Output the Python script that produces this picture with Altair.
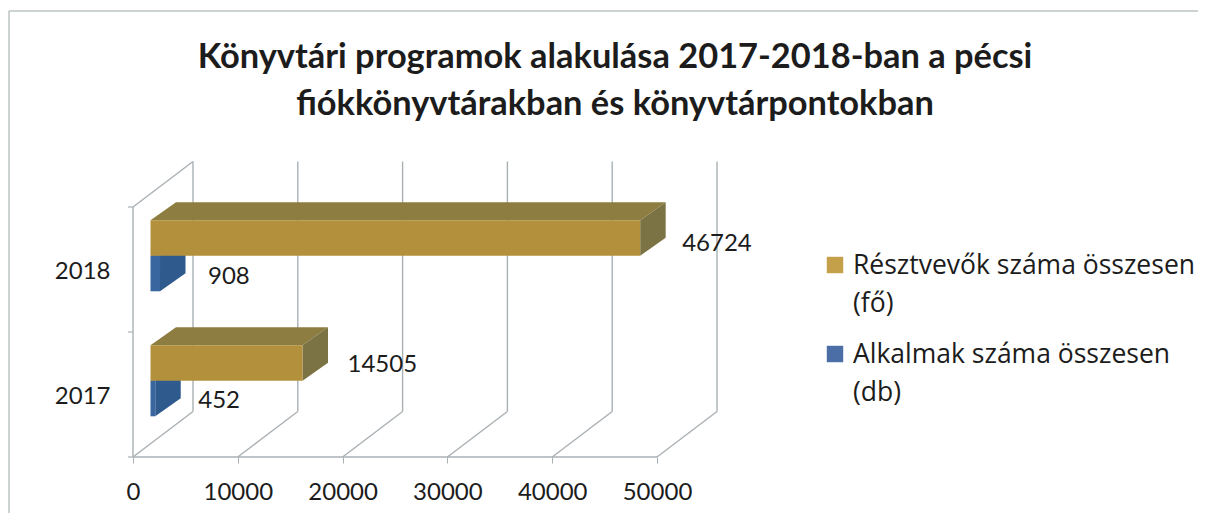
import altair as alt
import pandas as pd

# --- chart values ---
categories = ["2017", "2018"]
participants = [14505, 46724]
occasions = [452, 908]
ticks = [0, 10000, 20000, 30000, 40000, 50000]
title_lines = ["Könyvtári programok alakulása 2017-2018-ban a pécsi",
               "fiókkönyvtárakban és könyvtárpontokban"]
legend_names = ["Résztvevők száma összesen\n(fő)", "Alkalmak száma összesen\n(db)"]

# --- layout: projected "3D" geometry, expressed in scale units ---
W, H = 587, 296
PX_X = 524 / 50000          # px per value
PX_Y = 125                  # px per category level
DOMAIN_X = [0, W / PX_X]
DOMAIN_Y = [0, H / PX_Y]
WALL_DX, WALL_DY = 60 / PX_X, 45.5 / PX_Y
BAR_X0, BAR_SHIFT = 17.5 / PX_X, 13.7 / PX_Y
BAR_DX, BAR_DY = 25.5 / PX_X, 18 / PX_Y
BAR_H = 35.5 / PX_Y
FONT = "Lato"
LEG_FONT = "Open Sans"
INK = "#1c1c1c"
GRID = "#a9b0b4"

xs = alt.Scale(domain=DOMAIN_X, nice=False, zero=False)
ys = alt.Scale(domain=DOMAIN_Y, nice=False, zero=False)
x_axis = alt.Axis(
    values=ticks, grid=False, domain=False, tickColor=GRID, tickSize=6,
    labelFont=FONT, labelFontSize=24, labelColor=INK, labelPadding=17,
    labelFlush=False, labelOverlap=False, format="d", title=None)
y_axis = alt.Axis(
    values=[0.5, 1.5], labelExpr="datum.value < 1 ? '%s' : '%s'" % tuple(categories),
    ticks=False, grid=False, domain=False, labelFont=FONT, labelFontSize=24,
    labelColor=INK, labelPadding=23, labelOffset=2, title=None)
X = lambda f="x": alt.X(f"{f}:Q", scale=xs, axis=x_axis)
Y = lambda f="y": alt.Y(f"{f}:Q", scale=ys, axis=y_axis)

# --- walls and gridlines ---
rules = []
for t in ticks:
    rules.append(dict(x=t + WALL_DX, y=WALL_DY, x2=t + WALL_DX, y2=2 + WALL_DY))
    rules.append(dict(x=t, y=0, x2=t + WALL_DX, y2=WALL_DY))
rules.append(dict(x=0, y=0, x2=ticks[-1], y2=0))
rules.append(dict(x=0, y=0, x2=0, y2=2))
rules.append(dict(x=0, y=2, x2=WALL_DX, y2=2 + WALL_DY))

grid = alt.Chart(pd.DataFrame(rules)).mark_rule(color=GRID, strokeWidth=1.4).encode(
    x=X(), y=Y(), x2="x2:Q", y2="y2:Q")

ytick = alt.Chart(pd.DataFrame({"y": [0, 1, 2]})).mark_rule(color=GRID, strokeWidth=1.2).encode(
    x=alt.value(-5), x2=alt.value(0), y=Y())

# --- faux 3D bars ---
def bar_layers(values, offset, front, top, side):
    f, t, s = [], [], []
    for i, v in enumerate(values):
        lo = i + 0.5 + BAR_SHIFT + offset
        hi = lo + BAR_H
        x0, x1 = BAR_X0, BAR_X0 + v
        f.append(dict(x=x0, x2=x1, y=lo, y2=hi))
        t += [dict(id=i, y=hi, x=x0, x2=x1),
              dict(id=i, y=hi + BAR_DY, x=x0 + BAR_DX, x2=x1 + BAR_DX)]
        s += [dict(id=i, x=x1, y=lo, y2=hi),
              dict(id=i, x=x1 + BAR_DX, y=lo + BAR_DY, y2=hi + BAR_DY)]
    return [
        alt.Chart(pd.DataFrame(t)).mark_area(orient="horizontal", color=top).encode(
            y=Y(), x=X(), x2="x2:Q", detail="id:N"),
        alt.Chart(pd.DataFrame(s)).mark_area(orient="vertical", color=side).encode(
            x=X(), y=Y(), y2="y2:Q", detail="id:N"),
        alt.Chart(pd.DataFrame(f)).mark_rect(color=front).encode(
            x=X(), x2="x2:Q", y=Y(), y2="y2:Q"),
    ]

blue = bar_layers(occasions, -BAR_H, "#3a669f", "#2f5a8e", "#2f5a8e")
gold = bar_layers(participants, 0, "#b3903c", "#8e7d40", "#7c7345")

# --- data labels (px nudges keep them where the picture has them) ---
label_rows = []
gold_nudge = [(0, 1), (-3, -3)]
blue_nudge = [(-2, 1), (3, 0)]
for i, c in enumerate(categories):
    nx, ny = gold_nudge[i]
    label_rows.append(dict(x=BAR_X0 + participants[i] + nx / PX_X,
                           y=i + 0.5 + BAR_SHIFT + BAR_H / 2 + ny / PX_Y, t=str(participants[i])))
    nx, ny = blue_nudge[i]
    label_rows.append(dict(x=BAR_X0 + occasions[i] + nx / PX_X,
                           y=i + 0.5 + BAR_SHIFT - BAR_H / 2 + ny / PX_Y, t=str(occasions[i])))
labels = alt.Chart(pd.DataFrame(label_rows)).mark_text(
    font=FONT, fontSize=24, color=INK, align="left", baseline="middle", dx=45, dy=3
).encode(x=X(), y=Y(), text="t:N")

# --- legend ---
leg_colors = ["#c4a04b", "#4a6ea5"]
leg_y = [104, 193]   # px below the plot top
leg_sym = alt.Chart(pd.DataFrame({"c": leg_colors, "lv": [(H - p) / PX_Y for p in leg_y]})).mark_square(
    size=270, opacity=1
).encode(x=alt.value(702), y=Y("lv"), color=alt.Color("c:N", scale=None))
leg_txt = alt.Chart(pd.DataFrame({"t": legend_names, "lv": [(H - p + 12) / PX_Y for p in leg_y]})).mark_text(
    font=LEG_FONT, fontSize=26.5, color=INK, align="left", baseline="top", lineBreak="\n", lineHeight=38
).encode(x=alt.value(720), y=Y("lv"), text="t:N")

# --- scan frame ---
frame_v = alt.Chart(pd.DataFrame({"a": [0]})).mark_rule(color="#bcc4c4", strokeWidth=1.5).encode(
    x=alt.value(-124), y=alt.value(-150), y2=alt.value(352))
frame_h = alt.Chart(pd.DataFrame({"a": [0]})).mark_rule(color="#bcc4c4", strokeWidth=1.5).encode(
    x=alt.value(-124), x2=alt.value(1065), y=alt.value(-150))

chart = alt.layer(
    frame_v, frame_h, grid, ytick, *blue, *gold, labels, leg_sym, leg_txt
).properties(
    width=W, height=H,
    autosize=alt.AutoSizeParams(type="none"),
    padding={"left": 125, "top": 153, "right": 478, "bottom": 56},
    title=alt.TitleParams(
        text=title_lines, anchor="middle", dx=188.5, offset=-112,
        font=FONT, fontSize=34.4, fontWeight="bold", color=INK, lineHeight=47),
).configure_view(stroke=None)

chart.save("out.html", embed_options={"renderer": "svg", "actions": False})
